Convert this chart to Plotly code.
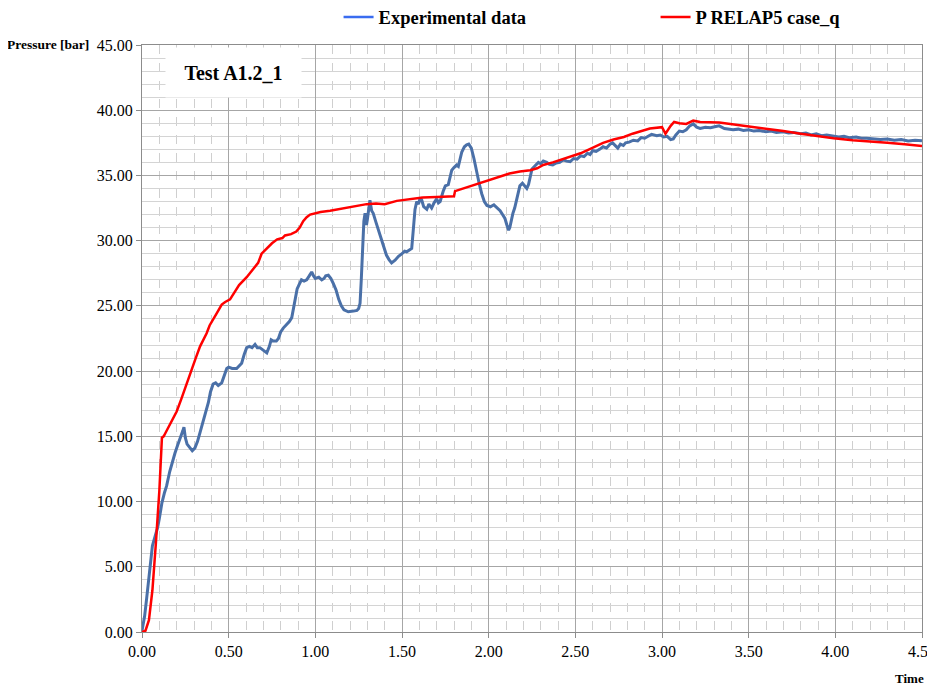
import plotly.graph_objects as go

t_exp = [
    0.00, 0.015, 0.027, 0.04, 0.05, 0.06, 0.075, 0.09, 0.10, 0.115, 0.13, 0.142, 0.16, 0.175, 0.19,
    0.205, 0.22, 0.235, 0.242, 0.25, 0.26, 0.275, 0.29, 0.305, 0.32, 0.335, 0.35, 0.365, 0.383,
    0.395, 0.41, 0.425, 0.44, 0.46, 0.475, 0.489, 0.50, 0.52, 0.546, 0.56, 0.575, 0.59, 0.604,
    0.62, 0.635, 0.652, 0.665, 0.68, 0.70, 0.72, 0.735, 0.745, 0.757, 0.775, 0.787, 0.80, 0.815,
    0.83, 0.85, 0.864, 0.875, 0.885, 0.895, 0.905, 0.92, 0.935, 0.95, 0.965, 0.979, 0.99, 1.00,
    1.02, 1.037, 1.05, 1.06, 1.075, 1.09, 1.104, 1.12, 1.135, 1.15, 1.165, 1.19, 1.22, 1.24, 1.25,
    1.258, 1.265, 1.272, 1.28, 1.287, 1.295, 1.30, 1.308, 1.315, 1.325, 1.334, 1.35, 1.373, 1.39,
    1.41, 1.425, 1.44, 1.46, 1.48, 1.50, 1.515, 1.527, 1.545, 1.556, 1.565, 1.575, 1.585, 1.595,
    1.605, 1.614, 1.625, 1.643, 1.655, 1.671, 1.685, 1.70, 1.71, 1.72, 1.738, 1.75, 1.767, 1.777,
    1.787, 1.80, 1.815, 1.825, 1.835, 1.845, 1.86, 1.873, 1.885, 1.90, 1.915, 1.93, 1.945, 1.96,
    1.975, 1.99, 2.01, 2.03, 2.05, 2.066, 2.08, 2.094, 2.105, 2.115, 2.122, 2.13, 2.14, 2.15,
    2.165, 2.18, 2.195, 2.21, 2.22, 2.23, 2.24, 2.25, 2.265, 2.287, 2.30, 2.315, 2.335, 2.35,
    2.37, 2.39, 2.41, 2.43, 2.45, 2.47, 2.49, 2.51, 2.53, 2.55, 2.57, 2.585, 2.60, 2.62, 2.64,
    2.66, 2.68, 2.70, 2.715, 2.73, 2.745, 2.76, 2.777, 2.79, 2.81, 2.835, 2.86, 2.88, 2.90, 2.92,
    2.94, 2.97, 2.99, 3.01, 3.03, 3.05, 3.065, 3.08, 3.10, 3.12, 3.14, 3.16, 3.18, 3.20, 3.22,
    3.25, 3.28, 3.31, 3.33, 3.36, 3.39, 3.41, 3.44, 3.47, 3.50, 3.53, 3.56, 3.60, 3.63, 3.66,
    3.70, 3.73, 3.76, 3.80, 3.83, 3.86, 3.89, 3.92, 3.95, 3.99, 4.02, 4.05, 4.08, 4.12, 4.15,
    4.18, 4.22, 4.26, 4.30, 4.34, 4.38, 4.42, 4.46, 4.50,
]
p_exp = [
    0.1, 1.2, 2.6, 4.2, 5.6, 6.6, 7.3, 8.0, 8.7, 9.9, 10.7, 11.2, 12.3, 13.1, 13.7,
    14.3, 14.8, 15.4, 15.7, 14.9, 14.4, 14.1, 13.9, 14.1, 14.6, 15.3, 16.0, 16.6, 17.6,
    18.4, 19.0, 19.1, 18.9, 19.1, 19.6, 20.2, 20.3, 20.2, 20.2, 20.4, 20.6, 21.3, 21.8,
    21.9, 21.8, 22.05, 21.8, 21.8, 21.6, 21.4, 21.9, 22.4, 22.3, 22.3, 22.5, 23.0, 23.3,
    23.5, 23.8, 24.1, 24.8, 25.6, 26.3, 26.6, 27.0, 26.9, 27.0, 27.3, 27.6, 27.3, 27.1,
    27.2, 27.0, 27.1, 27.3, 27.35, 27.1, 26.7, 26.2, 25.5, 25.0, 24.7, 24.55, 24.6, 24.65, 24.8,
    25.2, 27.0, 29.5, 31.5, 32.1, 31.2, 31.6, 32.5, 33.1, 32.3, 32.1, 31.4, 30.5, 29.7,
    28.9, 28.55, 28.3, 28.5, 28.8, 29.0, 29.2, 29.15, 29.3, 29.4, 30.8, 32.4, 33.0, 32.8,
    33.3, 33.1, 32.6, 32.4, 32.8, 32.5, 32.9, 33.2, 32.9, 33.0, 33.8, 34.2, 34.3, 34.9,
    35.4, 35.6, 35.8, 35.7, 36.3, 36.8, 37.2, 37.35, 37.4, 37.1, 36.3, 35.3, 34.4, 33.6,
    33.0, 32.7, 32.6, 32.75, 32.5, 32.3, 32.0, 31.7, 31.2, 30.8, 31.0, 31.6, 32.1, 32.5,
    33.3, 34.2, 34.4, 34.1, 34.0, 34.3, 35.0, 35.5, 35.7, 36.0, 35.9, 36.1, 36.0, 35.85,
    35.8, 35.95, 36.0, 36.2, 36.1, 36.05, 36.3, 36.25, 36.5, 36.45, 36.7, 36.6, 36.9, 36.85, 37.0,
    37.2, 37.1, 37.4, 37.5, 37.3, 37.1, 37.4, 37.3, 37.5, 37.55, 37.7, 37.65, 37.9, 37.85, 38.0,
    38.15, 38.05, 38.1, 37.95, 38.0, 37.75, 37.8, 38.1, 38.4, 38.35, 38.5, 38.8, 38.95, 38.7, 38.6,
    38.7, 38.65, 38.75, 38.8, 38.6, 38.55, 38.5, 38.55, 38.45, 38.5, 38.4, 38.45, 38.35, 38.4, 38.3,
    38.35, 38.25, 38.3, 38.2, 38.25, 38.1, 38.2, 38.05, 38.1, 38.0, 37.95, 38.0, 37.9, 37.95, 37.85,
    37.85, 37.8, 37.75, 37.8, 37.7, 37.75, 37.65, 37.7, 37.65,
]

# RELAP5 case_q calculation
t_relap = [
    0.00, 0.02, 0.04, 0.06, 0.08, 0.10, 0.115, 0.125, 0.133, 0.16, 0.20, 0.225, 0.248, 0.265,
    0.287, 0.31, 0.335, 0.355, 0.373, 0.39, 0.402, 0.43, 0.46, 0.48, 0.508, 0.53, 0.56, 0.604,
    0.64, 0.67, 0.69, 0.72, 0.75, 0.78, 0.81, 0.825, 0.86, 0.89, 0.91, 0.93, 0.95, 0.97, 1.00,
    1.03, 1.085, 1.15, 1.20, 1.25, 1.296, 1.35, 1.40, 1.47, 1.55, 1.62, 1.70, 1.80, 1.806, 1.83,
    1.854, 1.89, 1.95, 2.01, 2.06, 2.12, 2.18, 2.24, 2.28, 2.315, 2.37, 2.43, 2.48, 2.53, 2.58,
    2.62, 2.66, 2.72, 2.78, 2.83, 2.88, 2.93, 3.00, 3.02, 3.05, 3.07, 3.10, 3.14, 3.18, 3.22,
    3.33, 3.42, 3.51, 3.60, 3.70, 3.80, 3.90, 3.99, 4.10, 4.18, 4.30, 4.40, 4.50,
]
p_relap = [
    0.0, 0.1, 0.9, 3.2, 6.8, 10.8, 14.9, 15.0, 15.2, 15.9, 16.9, 17.8, 18.7, 19.2,
    20.1, 21.0, 21.9, 22.4, 22.9, 23.5, 23.8, 24.4, 25.1, 25.3, 25.5, 26.0, 26.6, 27.2,
    27.8, 28.3, 29.0, 29.4, 29.8, 30.1, 30.2, 30.4, 30.5, 30.7, 31.0, 31.5, 31.8, 32.0, 32.1,
    32.2, 32.3, 32.45, 32.55, 32.7, 32.8, 32.85, 32.8, 33.05, 33.2, 33.3, 33.35, 33.4, 33.8, 33.9,
    34.0, 34.15, 34.4, 34.7, 34.9, 35.15, 35.3, 35.4, 35.55, 35.8, 36.0, 36.25, 36.5, 36.7, 37.0,
    37.25, 37.5, 37.75, 37.95, 38.2, 38.4, 38.6, 38.7, 38.2, 38.8, 39.1, 39.0, 38.95, 39.2, 39.1,
    39.05, 38.9, 38.75, 38.55, 38.4, 38.2, 38.0, 37.85, 37.7, 37.6, 37.5, 37.4, 37.25,
]

FONT = "Liberation Serif, Times New Roman, serif"

fig = go.Figure()
fig.add_trace(go.Scatter(
    x=t_exp, y=p_exp, mode="lines", showlegend=False,
    line=dict(color="#4a70a8", width=3),
))
fig.add_trace(go.Scatter(
    x=t_relap, y=p_relap, mode="lines", showlegend=False,
    line=dict(color="#ff0000", width=2.5),
))
# legend keys (the reference draws them a brighter blue than the data line)
fig.add_trace(go.Scatter(x=[None], y=[None], mode="lines", name="<b>Experimental data</b>",
                         line=dict(color="#3a6cf0", width=2.5)))
fig.add_trace(go.Scatter(x=[None], y=[None], mode="lines", name="<b>P RELAP5 case_q</b>",
                         line=dict(color="#ff0000", width=2.5)))

fig.update_xaxes(
    range=[0, 4.5], dtick=0.5, tick0=0, tickformat=".2f",
    showgrid=True, gridcolor="#a6a6a6", gridwidth=1,
    minor=dict(dtick=0.1, showgrid=True, gridcolor="#cfcfcf", griddash="dash", gridwidth=1),
    showline=True, linecolor="#8c8c8c", mirror=True,
    ticks="outside", ticklen=5, tickcolor="#8c8c8c", ticklabeloverflow="allow",
    tickfont=dict(family=FONT, size=16, color="black"), zeroline=False,
)
fig.update_yaxes(
    range=[0, 45], dtick=5, tick0=0, tickformat=".2f",
    showgrid=True, gridcolor="#a6a6a6", gridwidth=1,
    minor=dict(dtick=1, showgrid=True, gridcolor="#d4d4d4", gridwidth=1),
    showline=True, linecolor="#8c8c8c", mirror=True,
    ticks="outside", ticklen=5, tickcolor="#8c8c8c",
    tickfont=dict(family=FONT, size=16, color="black"), zeroline=False,
)

# the page adds an 8px body margin, so the figure is 8px smaller than the window
fig.update_layout(
    width=927, height=680,
    margin=dict(l=134, r=13, t=37, b=56, autoexpand=False),
    plot_bgcolor="white", paper_bgcolor="white",
    font=dict(family=FONT, color="black"),
    legend=dict(
        orientation="h", x=0.252, xanchor="left", y=1.047, yanchor="middle",
        font=dict(family=FONT, size=18.5, color="black"),
        entrywidth=272, entrywidthmode="pixels", bgcolor="rgba(0,0,0,0)",
    ),
    annotations=[
        dict(text="<b>Pressure [bar]</b>", xref="paper", yref="paper",
             x=-0.1756, y=1.0017, xanchor="left", yanchor="middle", showarrow=False,
             font=dict(family=FONT, size=13.5, color="black")),
        dict(text="<b>Time [s]</b>", xref="paper", yref="paper",
             x=0.9628, y=-0.080, xanchor="left", yanchor="middle", showarrow=False,
             font=dict(family=FONT, size=13, color="black")),
        dict(text="<b>Test A1.2_1</b>", xref="paper", yref="paper",
             x=0.1167, y=0.954, xanchor="center", yanchor="middle", showarrow=False,
             width=135, height=49, bgcolor="white", borderpad=0,
             font=dict(family=FONT, size=20, color="black")),
    ],
)

fig.write_html("out.html")
